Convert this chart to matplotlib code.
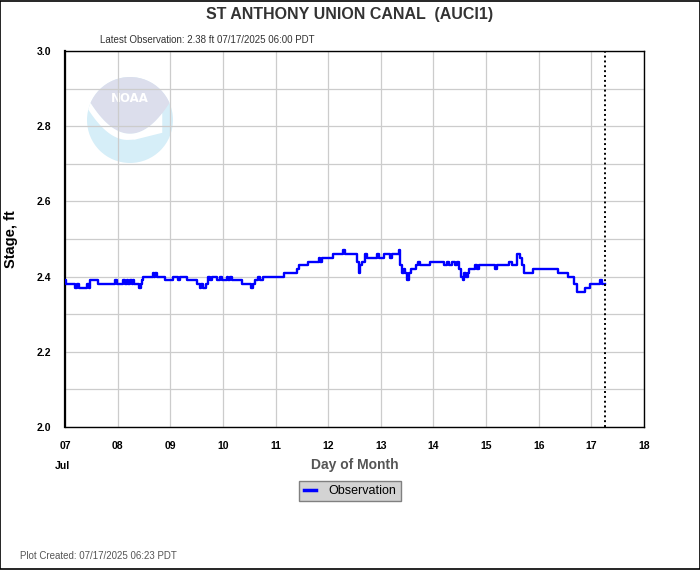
import numpy as np
import pandas as pd
import matplotlib
matplotlib.use("Agg")
import matplotlib.pyplot as plt
import matplotlib.dates as mdates
from matplotlib.patches import Circle, Polygon, Rectangle

plt.rcParams['font.family'] = ['Liberation Sans', 'DejaVu Sans']

title = "ST ANTHONY UNION CANAL  (AUCI1)"
latest = "Latest Observation: 2.38 ft 07/17/2025 06:00 PDT"
created = "Plot Created: 07/17/2025 06:23 PDT"

# hours since 07/07/2025 00:00 PDT where the stage changes, and stage (ft)
obs_hours = [0.0, 0.5, 4.6, 5.3, 6.4, 9.9, 11.0, 11.4, 15.2, 22.8, 23.6, 26.3, 27.4,
             28.1, 28.9, 29.7, 30.4, 30.9, 31.5, 33.9, 34.5, 35.0, 35.7, 40.0, 40.6,
             41.2, 42.1, 45.6, 49.4, 51.7, 52.5, 55.5, 60.4, 61.6, 62.2, 62.8, 64.2,
             65.0, 66.2, 67.0, 69.2, 70.7, 71.5, 73.8, 74.5, 75.3, 76.0, 80.6, 84.7,
             85.6, 86.7, 87.8, 89.0, 90.2, 100.0, 106.0, 106.8, 111.0, 115.6, 116.4,
             117.1, 122.1, 126.7, 127.5, 132.3, 133.1, 133.9, 134.6, 135.4, 136.9,
             137.7, 142.2, 143.0, 145.3, 148.0, 149.1, 152.1, 152.9, 153.6, 154.4,
             155.2, 155.9, 157.0, 157.7, 160.2, 161.0, 161.9, 166.3, 173.0, 174.2,
             175.1, 176.5, 178.0, 178.7, 179.5, 180.7, 181.5, 182.1, 182.8, 183.6,
             184.2, 187.1, 187.9, 188.6, 196.2, 197.0, 202.3, 203.8, 206.1, 207.6,
             208.4, 209.2, 213.4, 224.7, 229.2, 232.3, 233.5, 237.3, 239.6, 244.1,
             245.0, 246.0]
obs_stage = [2.39, 2.38, 2.37, 2.38, 2.37, 2.38, 2.37, 2.39, 2.38, 2.39, 2.38, 2.39, 2.38,
             2.39, 2.38, 2.39, 2.38, 2.39, 2.38, 2.37, 2.38, 2.39, 2.40, 2.41, 2.40,
             2.41, 2.40, 2.39, 2.40, 2.39, 2.40, 2.39, 2.38, 2.37, 2.38, 2.37, 2.38,
             2.40, 2.39, 2.40, 2.39, 2.40, 2.39, 2.40, 2.39, 2.40, 2.39, 2.38, 2.37,
             2.38, 2.39, 2.40, 2.39, 2.40, 2.41, 2.42, 2.43, 2.44, 2.45, 2.44,
             2.45, 2.46, 2.47, 2.46, 2.46, 2.44, 2.41, 2.43, 2.44, 2.46,
             2.45, 2.46, 2.45, 2.46, 2.45, 2.46, 2.47, 2.43, 2.41, 2.42,
             2.41, 2.39, 2.41, 2.42, 2.43, 2.44, 2.43, 2.44, 2.43, 2.44,
             2.43, 2.44, 2.43, 2.44, 2.42, 2.40, 2.39, 2.41, 2.40, 2.41,
             2.42, 2.43, 2.42, 2.43, 2.42, 2.43, 2.44, 2.43, 2.46, 2.45,
             2.43, 2.41, 2.42, 2.41, 2.40, 2.38, 2.36, 2.37, 2.38, 2.39,
             2.38, 2.38]

start = pd.Timestamp("2025-07-07 00:00")
end = pd.Timestamp("2025-07-18 00:00")
now = pd.Timestamp("2025-07-17 06:23")
times = start + pd.to_timedelta(obs_hours, unit="h")

fig = plt.figure(figsize=(7, 5.7), dpi=100)
W, H = 700, 570
ax = fig.add_axes([65 / W, 1 - 427 / H, (644 - 65) / W, (427 - 51) / H])

# faint NOAA logo behind the data
lax = fig.add_axes([87 / W, 1 - 163 / H, 86 / W, 86 / H], zorder=0)
lax.set_xlim(-1, 1)
lax.set_ylim(-1, 1)
lax.set_aspect("equal")
lax.axis("off")
disc = Circle((0, 0), 1, color="#d6eef8", lw=0)
lax.add_patch(disc)
gx = np.linspace(-1.1, 1.1, 60)
curve = -0.32 + 0.85 * gx ** 2
upper = np.vstack([np.column_stack([gx, curve]), [[1.1, 1.2], [-1.1, 1.2]]])
lav = Polygon(upper, closed=True, color="#dcdeec", lw=0)
lax.add_patch(lav)
lav.set_clip_path(disc)
bx = np.linspace(-1.1, 0.75, 50)
btop = -0.32 + 0.85 * bx ** 2
bbot = btop - 0.14 - 0.1 * np.clip(-bx, 0, None)
bbot = np.where(bx > 0.1, -0.46 + 0.25 * (bx - 0.1), bbot)
band = np.vstack([np.column_stack([bx, btop]), np.column_stack([bx[::-1], bbot[::-1]])])
gull = Polygon(band, closed=True, color="white", lw=0)
lax.add_patch(gull)
gull.set_clip_path(disc)
lax.text(0, 0.5, "NOAA", color="white", ha="center", va="center", fontsize=8.5,
         fontweight="bold", family=["DejaVu Sans"])
ax.set_zorder(1)
ax.patch.set_alpha(0)

ax.plot(times, obs_stage, color="#0000ff", lw=1.7, drawstyle="steps-post",
        label="Observation", zorder=3)
ax.axvline(now, color="black", ls=(0, (1, 1.5)), lw=1.4, zorder=4)

ax.set_xlim(start, end)
ax.set_ylim(2.0, 3.0)
ax.xaxis.set_major_locator(mdates.DayLocator())
ax.xaxis.set_major_formatter(mdates.DateFormatter("%d"))
ax.set_yticks(np.arange(2.0, 3.01, 0.2))
ax.set_yticks(np.arange(2.1, 3.0, 0.2), minor=True)
ax.set_yticklabels(["%.1f" % v for v in np.arange(2.0, 3.01, 0.2)])
ax.grid(True, which="both", color="#cccccc", lw=0.9)
ax.tick_params(which="both", length=0)
ax.tick_params(axis="x", pad=10, labelsize=7.5)
ax.tick_params(axis="y", pad=10, labelsize=7.5)
for lab in ax.get_xticklabels() + ax.get_yticklabels():
    lab.set_fontweight("bold")
for s in ax.spines.values():
    s.set_color("black")
    s.set_linewidth(1.0)
ax.spines["left"].set_linewidth(1.6)

ax.set_xlabel("Day of Month", fontsize=10, fontweight="bold", color="#555555", labelpad=5)
fig.text(11 / W, 1 - 239 / H, "Stage, ft", rotation=90, ha="center", va="center",
         fontsize=10.5, fontweight="bold", color="black")

fig.text(350 / W, 1 - 14 / H, title, ha="center", va="center", fontsize=11.5,
         fontweight="bold", color="#333333")
fig.text(100 / W, 1 - 40 / H, latest, ha="left", va="center", fontsize=7, color="#333333")
fig.text(62 / W, 1 - 466 / H, "Jul", ha="center", va="center", fontsize=7.5,
         fontweight="bold", color="black")
fig.text(20 / W, 1 - 556 / H, created, ha="left", va="center", fontsize=7, color="#555555")

leg = fig.legend(loc="center", bbox_to_anchor=(350 / W, 1 - 491 / H), fontsize=9,
                 frameon=True, fancybox=False, handlelength=1.0, handletextpad=1.0,
                 borderpad=0.35)
leg.get_frame().set_facecolor("#d3d3d3")
leg.get_frame().set_edgecolor("#808080")
leg.get_frame().set_alpha(1)
leg.get_lines()[0].set_linewidth(2.5)

fig.patches.append(Rectangle((0.0007, 0.0009), 0.9986, 0.9982, transform=fig.transFigure,
                             fill=False, edgecolor="black", lw=1.2))

fig.savefig("out.png", dpi=100)
